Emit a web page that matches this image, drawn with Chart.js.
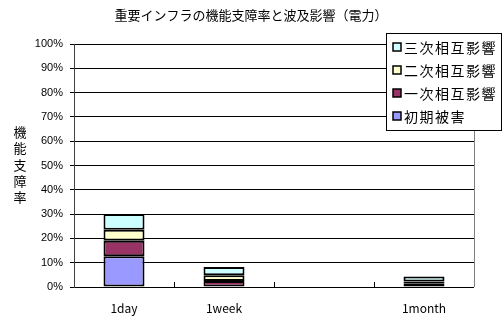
<!DOCTYPE html>
<html>
<head>
<meta charset="utf-8">
<script src="https://cdn.jsdelivr.net/npm/chart.js@4"></script>
<style>
  html, body { margin: 0; padding: 0; background: #fff; }
  #wrap { width: 503px; height: 320px; position: relative; }
</style>
</head>
<body>
<div id="wrap"><canvas id="grafico" width="503" height="320"></canvas></div>
<script>
// datos (porcentajes)
const categorias = ["1day", "1week", "", "1month"];
const seriesNombres = ["初期被害", "一次相互影響", "二次相互影響", "三次相互影響"];
const seriesColores = ["#9999FF", "#993366", "#FFFFCC", "#CCFFFF"];
const inicial = [12.7, 0, 0, 0];
const primario = [6.3, 2.5, 0, 1.5];
const secundario = [4.6, 2.3, 0, 0.8];
const terciario = [6.4, 3.4, 0, 2.0];
const ticksY = [0, 10, 20, 30, 40, 50, 60, 70, 80, 90, 100];
const titulo = "重要インフラの機能支障率と波及影響（電力）";
const tituloY = "機能支障率";

const valores = [inicial, primario, secundario, terciario];
const jp = "'Noto Sans CJK JP', 'Noto Sans', sans-serif";

/* ---------------------------------------------------
   PLUGIN: titulo, titulo del eje, leyenda y marcas
--------------------------------------------------- */
const extras = {
  id: "extras",
  afterDraw(chart) {
    const c = chart.ctx;
    const a = chart.chartArea;
    c.save();

    // borde derecho del area
    c.strokeStyle = "#808080";
    c.lineWidth = 1;
    c.beginPath();
    c.moveTo(Math.round(a.right) + 0.5, a.top);
    c.lineTo(Math.round(a.right) + 0.5, a.bottom);
    c.stroke();

    // marcas del eje x (hacia dentro)
    c.strokeStyle = "#000";
    const paso = (a.right - a.left) / categorias.length;
    for (let i = 1; i < categorias.length; i++) {
      const x = Math.round(a.left + i * paso) + 0.5;
      c.beginPath();
      c.moveTo(x, a.bottom - 5);
      c.lineTo(x, a.bottom);
      c.stroke();
    }

    // titulo
    c.fillStyle = "#000";
    c.font = "13px " + jp;
    c.textAlign = "center";
    c.textBaseline = "middle";
    c.fillText(titulo, 251, 15);

    // titulo eje y (vertical)
    [...tituloY].forEach((ch, i) => {
      c.fillText(ch, 20, 132 + i * 16.3);
    });

    // leyenda
    c.fillStyle = "#fff";
    c.fillRect(386, 33, 116, 98);
    c.strokeStyle = "#000";
    c.lineWidth = 1;
    c.strokeRect(386.5, 33.5, 115, 97);

    c.font = "14px " + jp;
    c.textAlign = "left";
    c.letterSpacing = "1.5px";
    const orden = [3, 2, 1, 0];
    orden.forEach((k, i) => {
      const y = 47 + i * 23;
      c.fillStyle = seriesColores[k];
      c.fillRect(393, y - 4, 8, 8);
      c.strokeStyle = "#000";
      c.lineWidth = 1.5;
      c.strokeRect(393, y - 4, 8, 8);
      c.fillStyle = "#000";
      c.fillText(seriesNombres[k], 404, y + 1);
    });
    c.restore();
  },
};

const ctx = document.getElementById("grafico");
new Chart(ctx, {
  type: "bar",
  data: {
    labels: categorias,
    datasets: seriesNombres.map((n, i) => ({
      label: n,
      data: valores[i],
      backgroundColor: seriesColores[i],
      borderColor: "#000",
      borderWidth: 2,
      borderSkipped: false,
      categoryPercentage: 1,
      barPercentage: 0.41,
    })),
  },
  options: {
    responsive: false,
    animation: false,
    devicePixelRatio: 1,
    layout: { padding: { top: 44, right: 29, left: 0, bottom: 0 } },
    plugins: {
      legend: { display: false },
      title: { display: false },
      tooltip: { enabled: false },
    },
    scales: {
      x: {
        stacked: true,
        grid: { display: false, drawTicks: false },
        border: { display: false },
        ticks: {
          padding: 14,
          autoSkip: false,
          maxRotation: 0,
          minRotation: 0,
          color: "#000",
          font: { family: jp, size: 12 },
        },
        afterFit: (s) => { s.height = 33; },
      },
      y: {
        stacked: true,
        min: 0,
        max: 100,
        afterBuildTicks: (s) => { s.ticks = ticksY.map((v) => ({ value: v })); },
        grid: { color: "#000", lineWidth: 1, tickLength: 4, tickColor: "#000" },
        border: { color: "#404040", width: 1 },
        ticks: {
          padding: 7,
          autoSkip: false,
          color: "#000",
          font: { family: "'Liberation Sans', Arial, sans-serif", size: 11 },
          callback: (v) => v + "%",
        },
        afterFit: (s) => { s.width = 74; },
      },
    },
  },
  plugins: [extras],
});
</script>
</body>
</html>
